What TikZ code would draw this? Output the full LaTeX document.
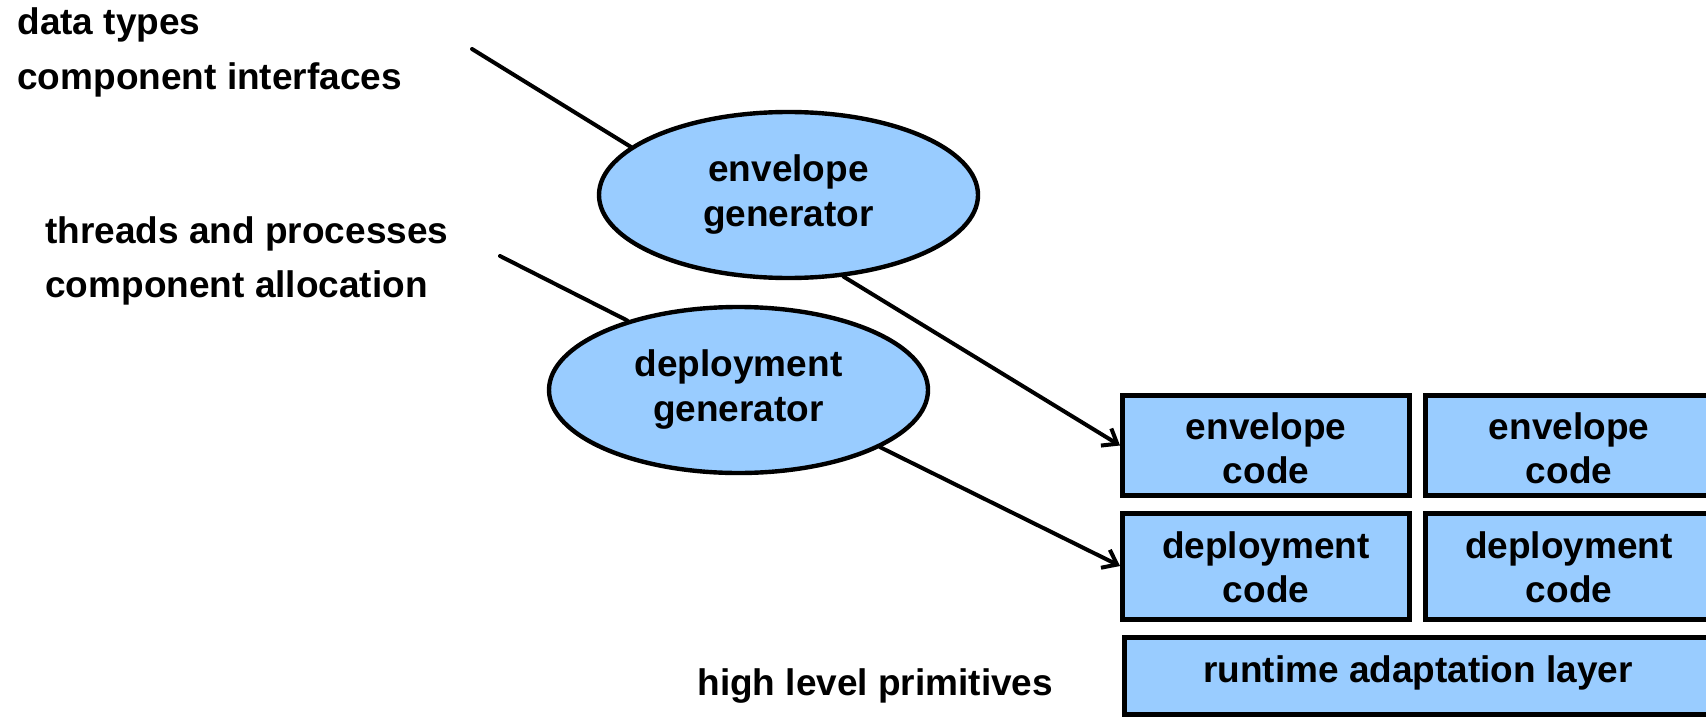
\documentclass[tikz,border=0pt]{standalone}
\usepackage{fontspec}
\setmainfont{Liberation Sans}
\usetikzlibrary{shapes.geometric,arrows.meta}
\definecolor{boxblue}{HTML}{99CCFF}
\tikzset{
  lbl/.style={font=\fontsize{18.5}{27.5}\selectfont\bfseries, inner sep=0pt, anchor=base west},
  gen/.style={ellipse, draw=black, line width=2.2pt, fill=boxblue, inner sep=0pt,
    minimum width=189.5pt, minimum height=83pt, align=center,
    font=\fontsize{18.5}{22.5}\selectfont\bfseries},
  codebox/.style={rectangle, draw=black, line width=2.5pt, fill=boxblue, inner sep=0pt,
    minimum width=143.5pt, align=center,
    font=\fontsize{18.5}{22}\selectfont\bfseries},
  conn/.style={line width=2pt, line cap=round},
  arr/.style={conn, -{Straight Barb[length=6.5pt,width=10pt,line width=2pt]}},
}
\begin{document}
\begin{tikzpicture}[x=0.5pt,y=-0.5pt]
\useasboundingbox (0,0) rectangle (1706,717);
\clip (0,0) rectangle (1706,717);
\fill[white] (0,0) rectangle (1706,717);

% left labels
\node[lbl] (dt) at (17,35) {data types};
\node[lbl] (ci) at (17,90) {component interfaces};
\node[lbl] (tp) at (45,243) {threads and processes};
\node[lbl] (ca) at (45,297) {component allocation};
\node[lbl] (hl) at (697,695) {high level primitives};

% generators
\node[gen] (eg1) at (788.5,195) {envelope\\generator};
\node[gen] (eg2) at (738.5,390) {deployment\\generator};

% code boxes
\node[codebox, minimum height=50pt] (b1) at (1266,445.5) {\rule{0pt}{16.2pt}envelope\\code};
\node[codebox, minimum height=50pt] (b2) at (1569,445.5) {\rule{0pt}{16.2pt}envelope\\code};
\node[codebox, minimum height=53pt] (b3) at (1266,566) {\rule{0pt}{14.2pt}deployment\\code};
\node[codebox, minimum height=53pt] (b4) at (1569,566) {\rule{0pt}{14.2pt}deployment\\code};
\node[codebox, minimum width=294pt, minimum height=38.5pt] (b5) at (1418,675.5) {};
\node[font=\fontsize{18.5}{22}\selectfont\bfseries, inner sep=0pt, anchor=base] (b5t) at (1418,682) {runtime adaptation layer};

% connectors
\coordinate (s1) at (472,49);
\coordinate (s2) at (500,256);
\draw[conn] (s1) -- (eg1.163);
\draw[conn] (s2) -- (eg2.148);
\draw[arr] (eg1.-56) -- (b1.west);
\draw[arr] (eg2.-22) -- (b3.west);
\end{tikzpicture}
\end{document}
